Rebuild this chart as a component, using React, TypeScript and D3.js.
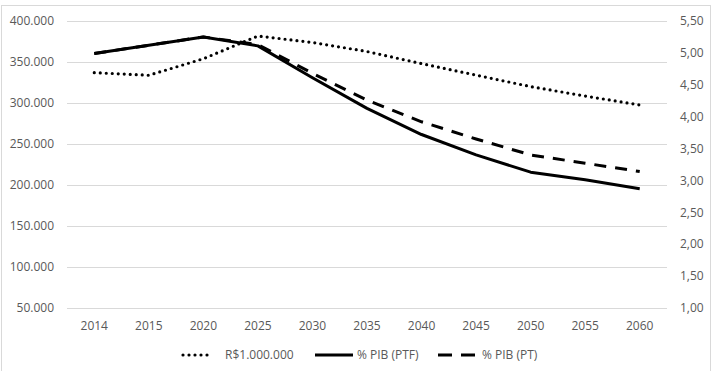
import React from "react";
import * as d3 from "d3";

const years = ["2014", "2015", "2020", "2025", "2030", "2035", "2040", "2045", "2050", "2055", "2060"];
const valorReais = [337000, 333800, 354000, 381700, 373800, 362800, 348000, 334000, 320000, 308500, 297600];
const pibPTF = [4.99, 5.12, 5.25, 5.11, 4.61, 4.13, 3.72, 3.4, 3.13, 3.01, 2.87];
const pibPT = [4.99, 5.12, 5.25, 5.13, 4.68, 4.26, 3.92, 3.65, 3.4, 3.27, 3.14];
const leftTicks = [50000, 100000, 150000, 200000, 250000, 300000, 350000, 400000];
const rightTicks = [1, 1.5, 2, 2.5, 3, 3.5, 4, 4.5, 5, 5.5];
const legendLabels = ["R$1.000.000", "% PIB (PTF)", "% PIB (PT)"];

const W = 715;
const H = 371;
const plot = { left: 67, right: 667, top: 21, bottom: 308 };
const font = "'Open Sans', 'Liberation Sans', sans-serif";
const textColor = "#595959";
const fs = 12;

const fmtLeft = (v: number) => d3.format(",")(v).replace(/,/g, ".");
const fmtRight = (v: number) => v.toFixed(2).replace(".", ",");

export default function App() {
  const x = d3.scaleBand<string>().domain(years).range([plot.left, plot.right]);
  const cx = (y: string) => (x(y) as number) + x.bandwidth() / 2;
  const yL = d3.scaleLinear().domain([50000, 400000]).range([plot.bottom, plot.top]);
  const yR = d3.scaleLinear().domain([1, 5.5]).range([plot.bottom, plot.top]);

  const lineL = d3.line<number>().x((_, i) => cx(years[i])).y((d) => yL(d));
  const lineR = d3.line<number>().x((_, i) => cx(years[i])).y((d) => yR(d));

  const dotted = { stroke: "#000", strokeWidth: 3.2, strokeDasharray: "0 6", strokeLinecap: "round" as const, fill: "none" };
  const solid = { stroke: "#000", strokeWidth: 3, fill: "none", strokeLinejoin: "round" as const };
  const dashed = { stroke: "#000", strokeWidth: 3, strokeDasharray: "12 9", fill: "none" };

  const legendY = 355;

  return (
    <svg width={W} height={H} style={{ position: "absolute", left: 0, top: 0 }} fontFamily={font}>
      <rect x={0} y={0} width={W} height={H} fill="#fff" />
      <rect x={1.5} y={5.5} width={709} height={370} fill="none" stroke="#d9d9d9" />
      {leftTicks.map((t) => (
        <line key={t} x1={plot.left} x2={plot.right} y1={Math.round(yL(t)) + 0.5} y2={Math.round(yL(t)) + 0.5} stroke="#d9d9d9" />
      ))}
      {leftTicks.map((t) => (
        <text key={t} x={54} y={yL(t)} dy="0.35em" textAnchor="end" fontSize={fs} fill={textColor}>
          {fmtLeft(t)}
        </text>
      ))}
      {rightTicks.map((t) => (
        <text key={t} x={680} y={yR(t)} dy="0.35em" textAnchor="start" fontSize={fs} fill={textColor}>
          {fmtRight(t)}
        </text>
      ))}
      {years.map((y) => (
        <text key={y} x={cx(y)} y={326} dy="0.35em" textAnchor="middle" fontSize={fs} fill={textColor}>
          {y}
        </text>
      ))}
      <path d={lineL(valorReais) || ""} {...dotted} />
      <path d={lineR(pibPTF) || ""} {...solid} />
      <path d={lineR(pibPT) || ""} {...dashed} />

      <g fontSize={fs} fill={textColor}>
        <line x1={183} x2={212} y1={legendY} y2={legendY} {...dotted} />
        <text x={225} y={legendY} dy="0.35em">{legendLabels[0]}</text>
        <line x1={315} x2={353} y1={legendY} y2={legendY} {...solid} />
        <text x={357} y={legendY} dy="0.35em">{legendLabels[1]}</text>
        <line x1={438} x2={476} y1={legendY} y2={legendY} stroke="#000" strokeWidth={3} strokeDasharray="14 9" />
        <text x={482} y={legendY} dy="0.35em">{legendLabels[2]}</text>
      </g>
    </svg>
  );
}
